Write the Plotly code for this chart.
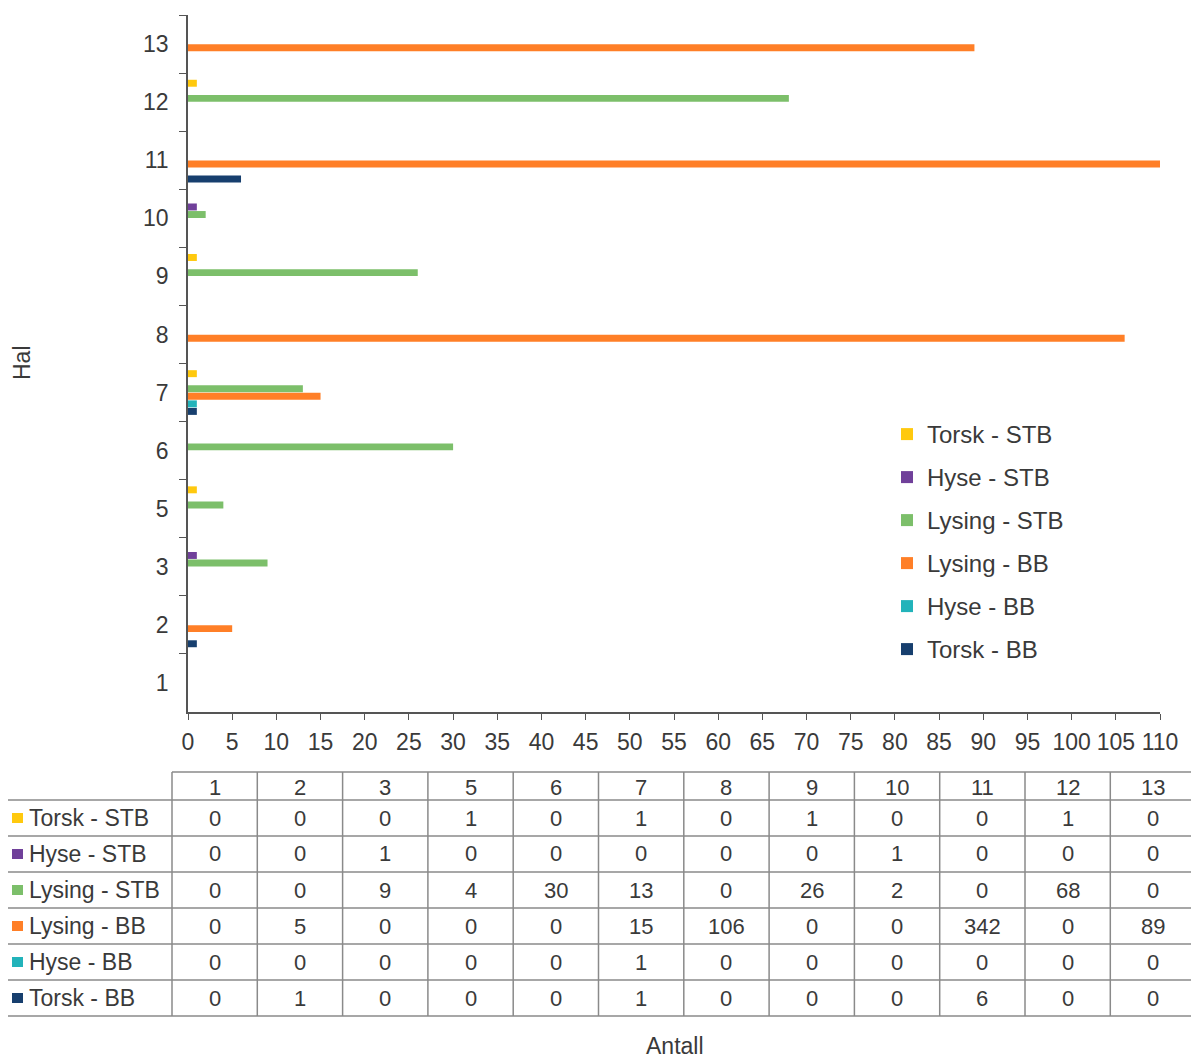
import plotly.graph_objects as go

# Haul numbers (category axis) and catch counts per series
hal = ["1", "2", "3", "5", "6", "7", "8", "9", "10", "11", "12", "13"]

series_names = ["Torsk - STB", "Hyse - STB", "Lysing - STB",
                "Lysing - BB", "Hyse - BB", "Torsk - BB"]
torsk_stb = [0, 0, 0, 1, 0, 1, 0, 1, 0, 0, 1, 0]
hyse_stb = [0, 0, 1, 0, 0, 0, 0, 0, 1, 0, 0, 0]
lysing_stb = [0, 0, 9, 4, 30, 13, 0, 26, 2, 0, 68, 0]
lysing_bb = [0, 5, 0, 0, 0, 15, 106, 0, 0, 342, 0, 89]
hyse_bb = [0, 0, 0, 0, 0, 1, 0, 0, 0, 0, 0, 0]
torsk_bb = [0, 1, 0, 0, 0, 1, 0, 0, 0, 6, 0, 0]

x_ticks = list(range(0, 111, 5))

colors = ["#FFC90E", "#70409A", "#7CBF6A", "#FF7F27", "#22B3BA", "#173F6E"]
values = [torsk_stb, hyse_stb, lysing_stb, lysing_bb, hyse_bb, torsk_bb]

FONT = "Liberation Sans, Arial, sans-serif"
TXT = "#3a3a3a"
W, H = 1191, 1061
L, R, T, B = 188, 1160, 15, 712  # plot area in pixels


def px(xp):
    return (xp - L) / (R - L)


def py(yp):
    return (B - yp) / (B - T)


fig = go.Figure()
for i, name in enumerate(series_names):
    fig.add_trace(go.Bar(
        y=hal, x=values[i], name=name, orientation="h",
        marker=dict(color=colors[i], line=dict(width=0)),
        legendgroup=name,
    ))

fig.update_layout(
    width=W, height=H,
    margin=dict(l=L, r=W - R, t=T, b=H - B),
    plot_bgcolor="white", paper_bgcolor="white",
    barmode="group", bargap=0.22, bargroupgap=0.08,
    font=dict(family=FONT, size=23, color=TXT),
    showlegend=True,
    legend=dict(
        x=px(887), y=py(412), xanchor="left", yanchor="top",
        traceorder="grouped", tracegroupgap=8.8,
        font=dict(size=24, color=TXT), bgcolor="rgba(0,0,0,0)",
    ),
    xaxis=dict(
        range=[0, 110], tickvals=x_ticks, ticktext=[str(v) for v in x_ticks],
        tickangle=0,
        showgrid=False, zeroline=False, showline=True, linecolor="#555",
        linewidth=1.5, ticks="outside", ticklen=6, tickcolor="#555",
        ticklabelstandoff=3, tickfont=dict(size=23, color=TXT),
    ),
    # reversed axis: first category array entry on top, first series on top of each group
    yaxis=dict(
        type="category", categoryorder="array", categoryarray=hal[::-1],
        autorange="reversed",
        showgrid=False, zeroline=False, showline=True, linecolor="#555",
        linewidth=1.5, ticks="outside", ticklen=7, tickcolor="#555",
        tickson="boundaries", ticklabelstandoff=13,
        tickfont=dict(size=23, color=TXT),
    ),
)

# Axis titles
fig.add_annotation(text="Hal", xref="paper", yref="paper", x=px(22), y=py(363),
                   xanchor="center", yanchor="middle",
                   textangle=-90, showarrow=False, font=dict(size=23, color=TXT))
fig.add_annotation(text="Antall", xref="paper", yref="paper", x=px(675), y=py(1061),
                   xanchor="center", yanchor="bottom",
                   showarrow=False, font=dict(size=23, color=TXT))

# Data table under the chart
col_left = 172
col_w = 85.3
head_top, head_bot = 772, 800
row_h = 36
n_rows = len(series_names)
table_bot = head_bot + n_rows * row_h
line_style = dict(color="#8a8a8a", width=1.5)

shapes = []
# header top line
shapes.append(dict(type="line", xref="paper", yref="paper",
                   x0=px(col_left), x1=px(W + 10), y0=py(head_top), y1=py(head_top),
                   line=line_style))
# horizontal row lines
for r in range(n_rows + 1):
    yl = head_bot + r * row_h
    shapes.append(dict(type="line", xref="paper", yref="paper",
                       x0=px(8), x1=px(W + 10), y0=py(yl), y1=py(yl), line=line_style))
# vertical column lines
for c in range(len(hal) + 1):
    xl = col_left + c * col_w
    shapes.append(dict(type="line", xref="paper", yref="paper",
                       x0=px(xl), x1=px(xl), y0=py(head_top), y1=py(table_bot),
                       line=line_style))

# column headers
for c, h in enumerate(hal):
    fig.add_annotation(text=h, xref="paper", yref="paper",
                       x=px(col_left + (c + 0.5) * col_w), y=py((head_top + head_bot) / 2 + 1),
                       xanchor="center", yanchor="middle",
                       showarrow=False, font=dict(size=22, color=TXT))

# rows: key square, series name, values
for r, name in enumerate(series_names):
    yc = head_bot + (r + 0.5) * row_h
    shapes.append(dict(type="rect", xref="paper", yref="paper",
                       x0=px(12), x1=px(23), y0=py(yc - 5), y1=py(yc + 5),
                       fillcolor=colors[r], line=dict(width=0)))
    fig.add_annotation(text=name, xref="paper", yref="paper", x=px(27), y=py(yc),
                       xanchor="left", yanchor="middle",
                       showarrow=False, font=dict(size=23, color=TXT))
    for c, v in enumerate(values[r]):
        fig.add_annotation(text=str(v), xref="paper", yref="paper",
                           x=px(col_left + (c + 0.5) * col_w), y=py(yc),
                           xanchor="center", yanchor="middle",
                           showarrow=False, font=dict(size=22, color=TXT))

fig.update_layout(shapes=shapes)
fig.write_html("out.html")
